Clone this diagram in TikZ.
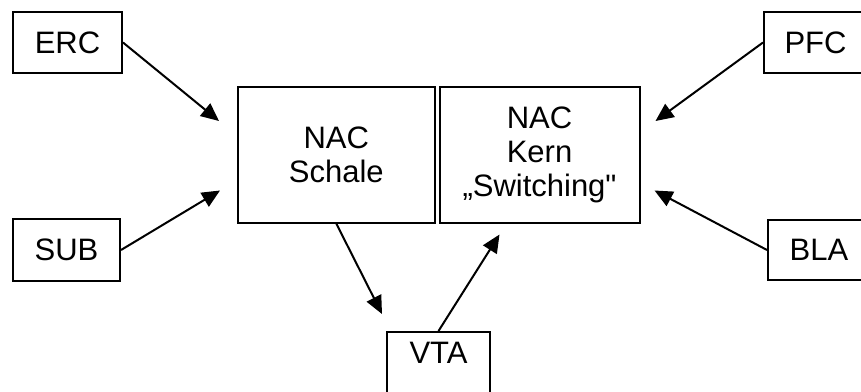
\documentclass[tikz,border=0pt]{standalone}
\usepackage{fontspec}
\setmainfont{Liberation Sans}[Ligatures=TeXOff]
\usetikzlibrary{arrows.meta}

\begin{document}
\begin{tikzpicture}[x=1pt, y=-1pt]
  \tikzstyle{area} = [draw, line width=2pt, fill=white, rectangle, inner sep=0pt, align=center, font={\fontsize{31}{34}\selectfont}]
  \tikzstyle{link} = [black, line width=2pt, -{Triangle[length=18pt, width=16pt]}];

  \fill[white] (0,0) rectangle (861,391);
  \clip (0,0) rectangle (861,391);

  % nucleus accumbens, shell and core side by side
  \node[area, minimum width=196.5, minimum height=135.5] (schale) at (336.25,154.75) {NAC\\Schale};
  \node[area, minimum width=200, minimum height=135.5] (kern) at (539.5,154.75) {NAC\\Kern\\„Switching"};

  % inputs and the loop through the VTA
  \node[area, minimum width=109, minimum height=61] (erc) at (67.5,42.5) {ERC};
  \node[area, minimum width=107, minimum height=62] (sub) at (66.5,250) {SUB};
  \node[area, minimum width=103, minimum height=61] (pfc) at (815.5,42.5) {PFC};
  \node[area, minimum width=102, minimum height=60] (bla) at (819,250) {BLA};
  \node[area, minimum width=103, minimum height=62, text depth=20pt] (vta) at (438.5,363) {VTA};

  \path[link]
  (erc.east) edge ([shift={(-18,35)}]schale.north west)
  (sub.east) edge ([shift={(-17,-33)}]schale.south west)
  (pfc.west) edge ([shift={(15,35)}]kern.north east)
  (bla.west) edge ([shift={(14,-33)}]kern.south east)
  (schale.south) edge ([shift={(-4,-17)}]vta.north west)
  (vta.north) edge ([shift={(61,11)}]kern.south west);
\end{tikzpicture}
\end{document}
